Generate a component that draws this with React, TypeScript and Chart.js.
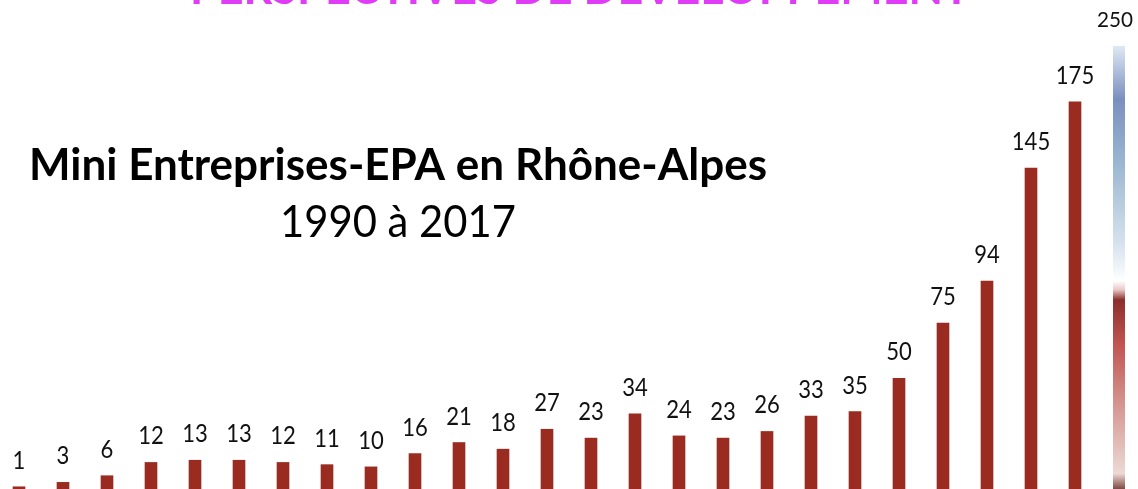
import React, { useEffect, useRef } from "react";
import { Chart, registerables } from "chart.js";

Chart.register(...registerables);

const years = [
  "1993", "1994", "1995", "1996", "1997", "1998", "1999", "2000", "2001", "2002",
  "2003", "2004", "2005", "2006", "2007", "2008", "2009", "2010", "2011", "2012",
  "2013", "2014", "2015", "2016", "2017",
];
const counts = [1, 3, 6, 12, 13, 13, 12, 11, 10, 16, 21, 18, 27, 23, 34, 24, 23, 26, 33, 35, 50, 75, 94, 145, 175];
const topTitle = "PERSPECTIVES DE DEVELOPPEMENT";
const mainTitle = "Mini Entreprises-EPA en Rhône-Alpes";
const subTitle = "1990 à 2017";
const scaleLabel = "250";

const OX = 3; // canvas x = page x + OX

function fitText(ctx: CanvasRenderingContext2D, text: string, font: string, left: number, right: number, baseline: number, color: string) {
  ctx.save();
  ctx.font = font;
  ctx.fillStyle = color;
  ctx.textAlign = "left";
  ctx.textBaseline = "alphabetic";
  const w = ctx.measureText(text).width;
  ctx.translate(left + OX, baseline);
  ctx.scale((right - left) / w, 1);
  ctx.fillText(text, 0, 0);
  ctx.restore();
}

const decorPlugin = {
  id: "decor",
  afterDatasetsDraw(chart: any) {
    const ctx: CanvasRenderingContext2D = chart.ctx;
    const meta = chart.getDatasetMeta(0);
    ctx.save();
    ctx.font = "24.5px Lato";
    ctx.fillStyle = "#111111";
    ctx.textAlign = "center";
    ctx.textBaseline = "alphabetic";
    meta.data.forEach((el: any, i: number) => {
      const txt = String(counts[i]);
      ctx.save();
      ctx.translate(el.x, el.y - 18);
      ctx.scale(0.9, 1);
      ctx.fillText(txt, 0, 0);
      ctx.restore();
    });
    ctx.restore();

    // titles
    fitText(ctx, topTitle, "bold 48px Lato", 190, 970, 4, "#E03CF8");
    fitText(ctx, mainTitle, "bold 43px Lato", 29, 767, 180, "#000000");
    fitText(ctx, subTitle, "44px Lato", 280, 516, 237, "#000000");
    fitText(ctx, scaleLabel, "21px Lato", 1097, 1133, 27, "#111111");

    // gradient strip
    const x0 = 1113 + OX;
    const y0 = 46;
    const y1 = 489;
    const g = ctx.createLinearGradient(0, y0, 0, y1);
    g.addColorStop(0, "#dfe9f4");
    g.addColorStop(0.12, "#7a8fbf");
    g.addColorStop(0.28, "#9fbad3");
    g.addColorStop(0.45, "#d7e3ee");
    g.addColorStop(0.53, "#ffffff");
    g.addColorStop(0.55, "#e9c9c6");
    g.addColorStop(0.573, "#8b2f2c");
    g.addColorStop(0.675, "#c25552");
    g.addColorStop(0.8, "#d4918c");
    g.addColorStop(0.965, "#ecd9d4");
    g.addColorStop(0.99, "#a0706a");
    g.addColorStop(1, "#7a4a45");
    ctx.save();
    ctx.fillStyle = g;
    ctx.fillRect(x0, y0, 12, y1 - y0);
    ctx.restore();
  },
};

export default function App() {
  const ref = useRef<HTMLCanvasElement | null>(null);
  useEffect(() => {
    if (!ref.current) return;
    const chart = new Chart(ref.current, {
      type: "bar",
      data: {
        labels: years,
        datasets: [
          {
            data: counts,
            backgroundColor: "#9A2B20",
            borderWidth: 0,
            barThickness: 12,
          },
        ],
      },
      options: {
        responsive: false,
        animation: false,
        devicePixelRatio: 1,
        layout: { padding: { left: 0, right: 41, top: 0, bottom: 0 } },
        plugins: { legend: { display: false }, tooltip: { enabled: false }, title: { display: false } },
        scales: {
          x: { display: false, offset: true, grid: { display: false } },
          y: { display: false, min: 0, max: 221, grid: { display: false } },
        },
      },
      plugins: [decorPlugin],
    });
    return () => chart.destroy();
  }, []);
  return (
    <div style={{ position: "absolute", left: -OX, top: 0, width: 1141, height: 489, overflow: "hidden", background: "#ffffff" }}>
      <canvas ref={ref} width={1141} height={489} style={{ display: "block" }} />
    </div>
  );
}
